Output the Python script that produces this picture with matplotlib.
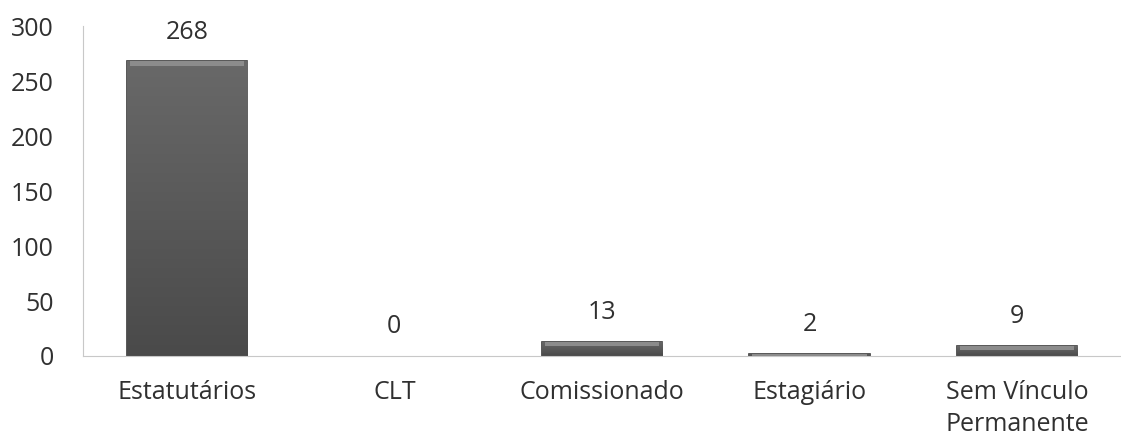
import matplotlib.pyplot as plt
import numpy as np

categorias = ['Estatutários', 'CLT', 'Comissionado', 'Estagiário', 'Sem Vínculo\nPermanente']
valores = [268, 0, 13, 2, 9]

plt.rcParams['font.family'] = ['Open Sans', 'DejaVu Sans']
cor_texto = '#303030'
tam = 18

fig = plt.figure(figsize=(11.21, 4.36), dpi=100)
ax = fig.add_axes([0.074, 0.1835, 0.926, 0.7565])

x = np.arange(len(categorias))
largura = 0.58
barras = ax.bar(x, valores, width=largura, color='#5c5c5c', edgecolor='#3a3a3a',
                linewidth=[1.2 if v > 0 else 0 for v in valores], zorder=2)

# degradê vertical (mais escuro embaixo) dentro de cada barra
tons = np.linspace(0.29, 0.41, 100)
grad = np.dstack([tons, tons, tons]).reshape(-1, 1, 3)
for b in barras:
    if b.get_height() <= 0:
        continue
    x0, w, h = b.get_x(), b.get_width(), b.get_height()
    im = ax.imshow(grad, aspect='auto', extent=[x0, x0 + w, 0, h],
                   origin='lower', zorder=2.5, interpolation='bilinear')
    im.set_clip_path(b)

# faixa clara no topo para o efeito de bisel
bisel = [min(v, 4) for v in valores]
ax.bar(x, bisel, bottom=np.array(valores) - np.array(bisel), width=largura * 0.95,
       color='#8c8c8c', linewidth=0, zorder=3)

for xi, v in zip(x, valores):
    ax.annotate(str(v), (xi, v), xytext=(0, 21), textcoords='offset points',
                ha='center', va='center', fontsize=tam, color=cor_texto)

ax.set_xlim(-0.5, len(categorias) - 0.5)
ax.set_ylim(0, 300)
ax.set_yticks(range(0, 301, 50))
ax.set_xticks(x)
ax.set_xticklabels(categorias, fontsize=tam, color=cor_texto, linespacing=1.4)
ax.tick_params(axis='y', length=0, pad=21, labelsize=tam, labelcolor=cor_texto)
ax.tick_params(axis='x', length=0, pad=17)

for lado in ['top', 'right']:
    ax.spines[lado].set_visible(False)
ax.spines['left'].set_color('#c8c8c8')
ax.spines['bottom'].set_color('#c8c8c8')

fig.savefig('out.png', dpi=100)
